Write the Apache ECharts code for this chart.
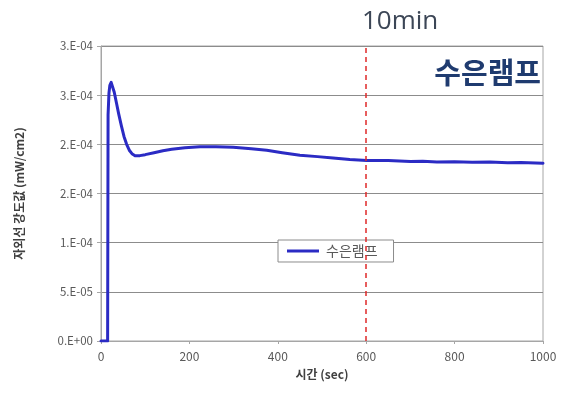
<!DOCTYPE html>
<html>
<head>
<meta charset="utf-8">
<script src="https://cdn.jsdelivr.net/npm/echarts@6/dist/echarts.min.js"></script>
<style>
  html, body { margin: 0; padding: 0; background: #fff; }
  #chart { width: 562px; height: 394px; }
</style>
</head>
<body>
<div id="chart"></div>
<script>
// Mercury lamp UV intensity over time
const seriesName = '수은램프';
const timeSec = [0, 15, 16, 18, 20, 23, 26, 30, 35, 40, 46, 52, 58, 64, 70, 77, 88, 100, 120, 140, 160, 190, 224, 260, 299, 340, 375, 410, 450, 490, 525, 563, 601, 650, 700, 728, 760, 800, 840, 880, 920, 950, 1000];
const intensity = [0, 0, 2.30e-4, 2.52e-4, 2.60e-4, 2.63e-4, 2.61e-4, 2.53e-4, 2.42e-4, 2.31e-4, 2.19e-4, 2.08e-4, 2.00e-4, 1.94e-4, 1.905e-4, 1.885e-4, 1.885e-4, 1.895e-4, 1.915e-4, 1.935e-4, 1.95e-4, 1.965e-4, 1.975e-4, 1.975e-4, 1.97e-4, 1.955e-4, 1.94e-4, 1.915e-4, 1.89e-4, 1.875e-4, 1.86e-4, 1.845e-4, 1.835e-4, 1.835e-4, 1.825e-4, 1.828e-4, 1.82e-4, 1.822e-4, 1.818e-4, 1.82e-4, 1.813e-4, 1.815e-4, 1.808e-4];
const yTickLabels = ['0.E+00', '5.E-05', '1.E-04', '2.E-04', '2.E-04', '3.E-04', '3.E-04'];
const xTicks = { min: 0, max: 1000, interval: 200 };
const markerTime = 600;
const markerLabel = '10min';

const KR = '"Noto Sans CJK KR", "Noto Sans", sans-serif';
const chart = echarts.init(document.getElementById('chart'));

chart.setOption({
  animation: false,
  backgroundColor: '#ffffff',
  grid: {
    left: 101, right: 19, top: 46, bottom: 53,
    show: true, borderColor: '#a6a6a6', borderWidth: 1
  },
  xAxis: {
    type: 'value',
    min: xTicks.min, max: xTicks.max, interval: xTicks.interval,
    name: '시간 (sec)',
    nameLocation: 'middle',
    nameGap: 27,
    nameTextStyle: { fontFamily: KR, fontSize: 12, fontWeight: 'bold', color: '#404040' },
    axisLine: { show: true, lineStyle: { color: '#a6a6a6' } },
    axisTick: { show: true, inside: false, length: 3, lineStyle: { color: '#a6a6a6' } },
    axisLabel: {
      fontFamily: KR, fontSize: 12, color: '#595959', margin: 9,
      formatter: v => String(v)
    },
    splitLine: { show: false }
  },
  yAxis: {
    type: 'value',
    min: 0, max: 3e-4, interval: 5e-5,
    name: '자외선 강도값 (mW/cm2)',
    nameLocation: 'middle',
    nameGap: 76,
    nameRotate: 90,
    nameTextStyle: { fontFamily: KR, fontSize: 12, fontWeight: 'bold', color: '#404040' },
    axisLine: { show: true, lineStyle: { color: '#a6a6a6' } },
    axisTick: { show: true, length: 4, lineStyle: { color: '#a6a6a6' } },
    axisLabel: {
      fontFamily: KR, fontSize: 11.5, color: '#595959', margin: 8,
      formatter: (v, i) => yTickLabels[i]
    },
    splitLine: { show: true, lineStyle: { color: '#8c8c8c', width: 1 } }
  },
  legend: {
    left: 278, top: 240,
    padding: [4, 16, 4, 9],
    backgroundColor: '#ffffff',
    borderColor: '#8c8c8c', borderWidth: 1, borderRadius: 0,
    itemWidth: 32, itemHeight: 3, itemGap: 4,
    icon: 'rect',
    textStyle: { fontFamily: KR, fontSize: 14, color: '#595959', padding: [0, 0, 0, 2] },
    data: [seriesName]
  },
  graphic: [
    {
      type: 'text', left: 362, top: 9,
      style: { text: markerLabel, font: '26px "Open Sans", sans-serif', fill: '#3c4656' }
    },
    {
      type: 'text', right: 21, top: 58,
      style: { text: seriesName, font: 'bold 29px "Noto Sans CJK KR", sans-serif', fill: '#1f3b6f' }
    }
  ],
  series: [{
    name: seriesName,
    type: 'line',
    data: timeSec.map((t, i) => [t, intensity[i]]),
    symbol: 'none',
    smooth: false,
    color: '#2b2bc4',
    lineStyle: { width: 3, color: '#2b2bc4', join: 'round', cap: 'round' },
    markLine: {
      silent: true,
      symbol: 'none',
      label: { show: false },
      lineStyle: { color: '#e02828', type: [5, 4], width: 1.5 },
      data: [{ xAxis: markerTime }]
    },
    z: 3
  }]
});
</script>
</body>
</html>
